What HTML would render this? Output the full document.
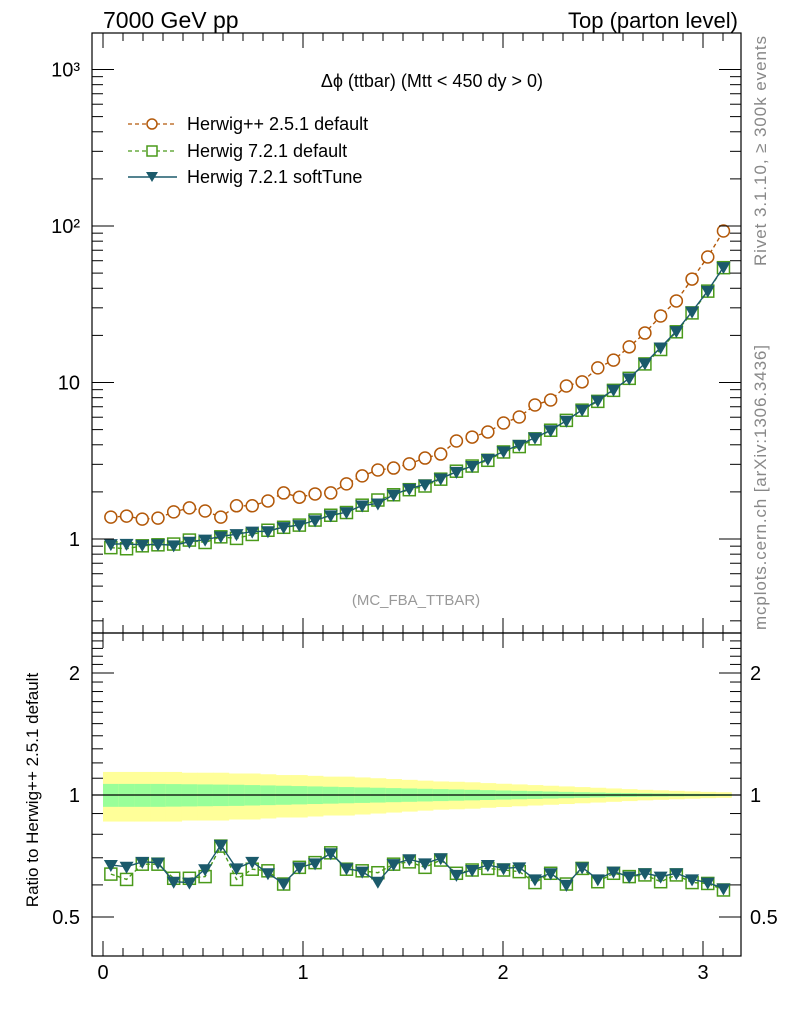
<!DOCTYPE html>
<html><head><meta charset="utf-8"><style>
body{margin:0;background:#fff;}
svg text{font-family:"Liberation Sans",sans-serif;}
</style></head><body>
<svg id="c" width="786" height="1024" xmlns="http://www.w3.org/2000/svg">
<rect x="0" y="0" width="786" height="1024" fill="#fff"/>
<g id="bands"></g>
<g id="marks"></g>
<g id="axes"></g>
<rect x="92" y="33" width="649" height="600" fill="none" stroke="#000" stroke-width="1.2"/>
<rect x="92" y="633" width="649" height="323" fill="none" stroke="#000" stroke-width="1.2"/>
<text x="103" y="28" font-size="23">7000 GeV pp</text>
<text x="738" y="28" font-size="22" text-anchor="end">Top (parton level)</text>
<text x="543" y="87" font-size="18" text-anchor="end">Δϕ (ttbar) (Mtt &lt; 450 dy &gt; 0)</text>
<text x="416" y="605" font-size="15" fill="#999" text-anchor="middle">(MC_FBA_TTBAR)</text>
<text transform="translate(766,266) rotate(-90)" font-size="17" fill="#888" textLength="230">Rivet 3.1.10, ≥ 300k events</text>
<text transform="translate(766,630) rotate(-90)" font-size="17" fill="#888" textLength="285">mcplots.cern.ch [arXiv:1306.3436]</text>
<text transform="translate(38,790) rotate(-90)" font-size="17" text-anchor="middle">Ratio to Herwig++ 2.5.1 default</text>
<g>
<g>
<line x1="128" y1="124" x2="177" y2="124" stroke="#b3590a" stroke-width="1.3" stroke-dasharray="4,3"/>
<circle cx="152" cy="124" r="5" fill="#fff" stroke="#b3590a" stroke-width="1.5"/>
<text x="187" y="130" font-size="18">Herwig++ 2.5.1 default</text></g>
<g>
<line x1="128" y1="151" x2="177" y2="151" stroke="#4a9a1a" stroke-width="1.3" stroke-dasharray="4,3"/>
<rect x="147" y="146" width="10" height="10" fill="#fff" stroke="#4a9a1a" stroke-width="1.5"/>
<text x="187" y="157" font-size="18">Herwig 7.2.1 default</text></g>
<g>
<line x1="128" y1="177" x2="177" y2="177" stroke="#1b5a6b" stroke-width="1.5"/>
<path d="M146,172 L158,172 L152,182 Z" fill="#1b5a6b"/>
<text x="187" y="183" font-size="18">Herwig 7.2.1 softTune</text></g>
</g>
</svg>
<script>
const hppValues=[1.38,1.40,1.34,1.36,1.49,1.58,1.51,1.38,1.63,1.63,1.75,1.97,1.85,1.94,1.97,2.25,2.53,2.76,2.84,3.02,3.29,3.49,4.23,4.48,4.83,5.51,6.02,7.18,7.73,9.50,10.1,12.4,13.9,16.9,20.7,26.6,33.2,45.8,63.4,92.9];
const ratioSoft=[0.672,0.665,0.684,0.681,0.611,0.608,0.656,0.753,0.659,0.684,0.641,0.605,0.663,0.678,0.718,0.659,0.647,0.611,0.675,0.694,0.678,0.698,0.635,0.653,0.672,0.659,0.663,0.619,0.641,0.600,0.663,0.619,0.647,0.629,0.641,0.629,0.641,0.619,0.608,0.588];
const ratioDefault=[0.638,0.619,0.675,0.675,0.623,0.623,0.629,0.748,0.619,0.656,0.650,0.603,0.663,0.681,0.720,0.656,0.650,0.643,0.675,0.684,0.663,0.691,0.641,0.653,0.659,0.653,0.647,0.608,0.641,0.603,0.659,0.611,0.641,0.629,0.635,0.611,0.635,0.608,0.605,0.583];
const errYellow=[0.14,0.14,0.14,0.14,0.14,0.135,0.135,0.135,0.13,0.13,0.125,0.12,0.12,0.115,0.11,0.11,0.105,0.10,0.095,0.09,0.085,0.08,0.078,0.075,0.07,0.066,0.062,0.058,0.054,0.05,0.046,0.042,0.038,0.034,0.03,0.027,0.024,0.021,0.018,0.016];
const errGreen=[0.065,0.065,0.065,0.065,0.064,0.063,0.062,0.061,0.06,0.058,0.056,0.054,0.052,0.05,0.048,0.046,0.044,0.042,0.04,0.038,0.036,0.034,0.032,0.03,0.028,0.026,0.024,0.022,0.02,0.018,0.016,0.014,0.012,0.011,0.01,0.009,0.008,0.007,0.006,0.005];
const xTicks=[0,1,2,3];
const yMainTicks=[1,10,100,1000];
const yMainLabels=["1","10","10²","10³"];
const yRatioTicks=[0.5,1,2];
const yRatioLabels=["0.5","1","2"];

const NS="http://www.w3.org/2000/svg";
const nb=hppValues.length, W=Math.PI/nb;
const X=v=>103+200*v;
const YM=v=>539-156.5*Math.log10(v);
const YR=v=>795-122*Math.log2(v);
function mk(tag,attrs,parent){const e=document.createElementNS(NS,tag);for(const k in attrs)e.setAttribute(k,attrs[k]);parent.appendChild(e);return e;}
const axes=document.getElementById('axes'),marks=document.getElementById('marks'),bands=document.getElementById('bands');

for(let i=0;i<nb;i++){
  const x0=X(i*W),x1=X((i+1)*W);
  const y=mk('rect',{x:x0,y:YR(1+errYellow[i]),width:x1-x0+0.5,height:YR(1-errYellow[i])-YR(1+errYellow[i]),fill:'#ffff99'},bands);
  
  
  const g=mk('rect',{x:x0,y:YR(1+errGreen[i]),width:x1-x0+0.5,height:YR(1-errGreen[i])-YR(1+errGreen[i]),fill:'#99ff99'},bands);
  
  
}
const refl=mk('line',{x1:92,x2:741,y1:YR(1),y2:YR(1),stroke:'#000','stroke-width':1.3},bands);



function hline(x1,x2,y){mk('line',{x1:x1,x2:x2,y1:y,y2:y,stroke:'#000','stroke-width':1},axes);}
function vline(x,y1,y2){mk('line',{x1:x,x2:x,y1:y1,y2:y2,stroke:'#000','stroke-width':1},axes);}
yMainTicks.forEach((t,k)=>{
  hline(92,114,YM(t));hline(719,741,YM(t));
  const tx=mk('text',{x:80,y:YM(t)+7,'font-size':20,'text-anchor':'end'},axes);
  tx.textContent=yMainLabels[k];
  
  
});
for(let d=-1;d<=3;d++)for(let m=2;m<=9;m++){const y=YM(m*Math.pow(10,d));if(y>34&&y<632){hline(92,103,y);hline(730,741,y);}}
yRatioTicks.forEach((t,k)=>{
  hline(92,114,YR(t));hline(719,741,YR(t));
  const tx=mk('text',{x:80,y:YR(t)+7,'font-size':20,'text-anchor':'end'},axes);
  tx.textContent=yRatioLabels[k];
  
  
  const tr=mk('text',{x:750,y:YR(t)+7,'font-size':20},axes);
  tr.textContent=yRatioLabels[k];
  
  
});
[0.6,0.7,0.8,0.9,1.1,1.2,1.3,1.4,1.5,1.6,1.7,1.8,1.9,2.1,2.2,2.3,2.4].forEach(v=>{const y=YR(v);if(y>634&&y<955){hline(92,103,y);hline(730,741,y);}});
xTicks.forEach(t=>{
  vline(X(t),956,941);vline(X(t),633,648);vline(X(t),633,618);vline(X(t),33,48);
  const tx=mk('text',{x:X(t),y:979,'font-size':20,'text-anchor':'middle'},axes);
  tx.textContent=String(t);
  
  
});
for(let v=0.1;v<3.2;v+=0.1){if(Math.abs(v-Math.round(v))<0.01)continue;vline(X(v),956,948);vline(X(v),633,641);vline(X(v),633,625);vline(X(v),33,41);}

const xs=hppValues.map((_,i)=>X((i+0.5)*W));
function series(vals,Y,color,dash,kind,name){
  const pl=mk('polyline',{points:vals.map((v,i)=>xs[i]+','+Y(v)).join(' '),fill:'none',stroke:color,'stroke-width':1.4},marks);
  if(dash)pl.setAttribute('stroke-dasharray','4,3');
  
  
  vals.forEach((v,i)=>{
    const x=xs[i],y=Y(v);let e;
    if(kind==='c')e=mk('circle',{cx:x,cy:y,r:6,fill:'#fff',stroke:color,'stroke-width':1.5},marks);
    else if(kind==='s')e=mk('rect',{x:x-6,y:y-6,width:12,height:12,fill:'none',stroke:color,'stroke-width':1.5},marks);
    else e=mk('path',{d:`M${x-7},${y-5} L${x+7},${y-5} L${x},${y+7} Z`,fill:color},marks);
    
    
  });
}
const defVals=hppValues.map((v,i)=>v*ratioDefault[i]);
const softVals=hppValues.map((v,i)=>v*ratioSoft[i]);
series(hppValues,YM,'#b3590a',true,'c','herwigpp');
series(defVals,YM,'#4a9a1a',true,'s','herwig721-default');
series(softVals,YM,'#1b5a6b',false,'t','herwig721-softtune');
series(ratioDefault,YR,'#4a9a1a',true,'s','ratio-default');
series(ratioSoft,YR,'#1b5a6b',false,'t','ratio-softtune');
</script>
</body></html>
